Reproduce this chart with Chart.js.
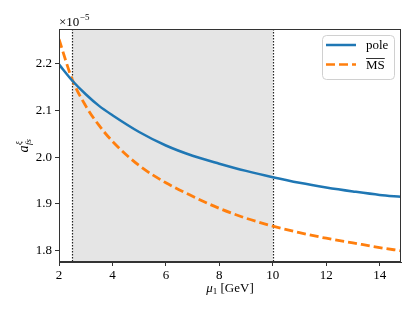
<!DOCTYPE html>
<html>
<head>
<meta charset="utf-8">
<script src="https://cdn.jsdelivr.net/npm/chart.js@4"></script>
<style>
  body { margin: 0; background: #fff; }
  #wrap { width: 418px; height: 314px; }
</style>
</head>
<body>
<div id="wrap"><canvas id="chart" width="418" height="314"></canvas></div>
<script>
// valores em unidades de 10^-5
const mu = [2, 2.5, 3, 3.5, 4, 5, 6, 7, 8, 9, 10, 11, 12, 13, 14, 14.8];
const pole = [2.199, 2.164, 2.135, 2.110, 2.090, 2.054, 2.025, 2.003, 1.986, 1.9705, 1.957, 1.945, 1.935, 1.9265, 1.919, 1.915];
const msbar = [2.253, 2.166, 2.110, 2.068, 2.034, 1.982, 1.945, 1.916, 1.890, 1.869, 1.852, 1.838, 1.826, 1.816, 1.806, 1.799];
const xTicks = [2, 4, 6, 8, 10, 12, 14];
const yTicks = [1.8, 1.9, 2.0, 2.1, 2.2];
const band = [2.5, 10];

const SERIF = "'Liberation Serif', 'DejaVu Serif', serif";
const AXIS_COLOR = "#333";

// faixa cinza + linhas pontilhadas
const bandPlugin = {
  id: "band",
  beforeDatasetsDraw(chart) {
    const { ctx, chartArea: a, scales } = chart;
    const x0 = scales.x.getPixelForValue(band[0]);
    const x1 = scales.x.getPixelForValue(band[1]);
    ctx.save();
    ctx.fillStyle = "#e5e5e5";
    ctx.fillRect(x0, a.top, x1 - x0, a.bottom - a.top);
    ctx.strokeStyle = "#222";
    ctx.lineWidth = 1.2;
    ctx.setLineDash([1.5, 1.5]);
    [x0, x1].forEach((x) => {
      ctx.beginPath();
      ctx.moveTo(Math.round(x) + 0.5, a.top);
      ctx.lineTo(Math.round(x) + 0.5, a.bottom);
      ctx.stroke();
    });
    ctx.restore();
  },
  afterDraw(chart) {
    const { ctx, chartArea: a } = chart;
    ctx.save();
    // moldura (topo e direita)
    ctx.strokeStyle = AXIS_COLOR;
    ctx.lineWidth = 1;
    ctx.strokeRect(a.left + 0.5, a.top + 0.5, a.right - a.left - 1, a.bottom - a.top - 1);

    // legenda
    const lx = 322, ly = 35, lw = 72, lh = 44;
    ctx.beginPath();
    ctx.roundRect(lx + 0.5, ly + 0.5, lw, lh, 4);
    ctx.fillStyle = "rgba(255,255,255,0.85)";
    ctx.fill();
    ctx.strokeStyle = "#d0d0d0";
    ctx.stroke();

    ctx.lineWidth = 2.5;
    ctx.strokeStyle = "#1f77b4";
    ctx.beginPath();
    ctx.moveTo(326, 45);
    ctx.lineTo(356, 45);
    ctx.stroke();
    ctx.strokeStyle = "#ff7f0e";
    ctx.setLineDash([9, 4]);
    ctx.beginPath();
    ctx.moveTo(326, 64.5);
    ctx.lineTo(356, 64.5);
    ctx.stroke();
    ctx.setLineDash([]);

    ctx.fillStyle = "#000";
    ctx.font = "13px " + SERIF;
    ctx.textBaseline = "alphabetic";
    ctx.textAlign = "left";
    ctx.fillText("pole", 366, 49);
    ctx.fillText("MS", 366, 69);
    const msW = ctx.measureText("MS").width;
    ctx.lineWidth = 0.8;
    ctx.strokeStyle = "#000";
    ctx.beginPath();
    ctx.moveTo(366, 58.5);
    ctx.lineTo(366 + msW, 58.5);
    ctx.stroke();

    // fator de escala ×10^-5
    ctx.font = "13px " + SERIF;
    ctx.fillText("×10", 59, 26);
    const w10 = ctx.measureText("×10").width;
    ctx.font = "9px " + SERIF;
    ctx.fillText("−5", 59 + w10 + 0.5, 20);

    // titulo eixo x: μ1 [GeV]
    ctx.font = "italic 13px " + SERIF;
    const wMu = ctx.measureText("μ").width;
    ctx.font = "9px " + SERIF;
    const wSub = ctx.measureText("1").width;
    ctx.font = "13px " + SERIF;
    const wRest = ctx.measureText(" [GeV]").width;
    let tx = (a.left + a.right) / 2 - (wMu + wSub + wRest) / 2;
    const ty = 292;
    ctx.font = "italic 13px " + SERIF;
    ctx.fillText("μ", tx, ty);
    tx += wMu;
    ctx.font = "9px " + SERIF;
    ctx.fillText("1", tx, ty + 2);
    tx += wSub;
    ctx.font = "13px " + SERIF;
    ctx.fillText(" [GeV]", tx, ty);

    // titulo eixo y: a^ξ_fs (rotacionado)
    ctx.translate(28, (a.top + a.bottom) / 2);
    ctx.rotate(-Math.PI / 2);
    ctx.font = "italic 14px " + SERIF;
    const wA = ctx.measureText("a").width;
    ctx.font = "italic 9px " + SERIF;
    const wXi = ctx.measureText("ξ").width;
    const wFs = ctx.measureText("fs").width;
    const total = wA + Math.max(wXi, wFs) + 1;
    let sx = -total / 2;
    ctx.font = "italic 14px " + SERIF;
    ctx.fillText("a", sx, 0);
    sx += wA + 0.5;
    ctx.font = "italic 9px " + SERIF;
    ctx.fillText("ξ", sx, -6);
    ctx.fillText("fs", sx, 3);
    ctx.restore();
  },
};

new Chart(document.getElementById("chart"), {
  type: "line",
  data: {
    datasets: [
      {
        label: "pole",
        data: mu.map((x, i) => ({ x, y: pole[i] })),
        borderColor: "#1f77b4",
        borderWidth: 2.5,
        pointRadius: 0,
        cubicInterpolationMode: "monotone",
        fill: false,
      },
      {
        label: "MS",
        data: mu.map((x, i) => ({ x, y: msbar[i] })),
        borderColor: "#ff7f0e",
        borderWidth: 2.8,
        borderDash: [9, 4],
        pointRadius: 0,
        cubicInterpolationMode: "monotone",
        fill: false,
      },
    ],
  },
  options: {
    responsive: false,
    animation: false,
    layout: { padding: { left: 0, right: 17, top: 29, bottom: 0 } },
    plugins: { legend: { display: false }, tooltip: { enabled: false } },
    scales: {
      x: {
        type: "linear",
        min: 2,
        max: 14.8,
        afterBuildTicks: (s) => { s.ticks = xTicks.map((v) => ({ value: v })); },
        afterFit: (s) => { s.height = 52; },
        ticks: {
          color: "#000",
          font: { family: SERIF, size: 13 },
          padding: 2,
          maxRotation: 0,
          callback: (v) => String(v),
        },
        grid: { drawOnChartArea: false, drawTicks: true, tickLength: 4, color: AXIS_COLOR },
        border: { display: true, color: AXIS_COLOR },
      },
      y: {
        min: 1.775,
        max: 2.275,
        afterBuildTicks: (s) => { s.ticks = yTicks.map((v) => ({ value: v })); },
        afterFit: (s) => { s.width = 59; },
        ticks: {
          color: "#000",
          font: { family: SERIF, size: 13 },
          padding: 3,
          callback: (v) => v.toFixed(1),
        },
        grid: { drawOnChartArea: false, drawTicks: true, tickLength: 4, color: AXIS_COLOR },
        border: { display: true, color: AXIS_COLOR },
      },
    },
  },
  plugins: [bandPlugin],
});
</script>
</body>
</html>
